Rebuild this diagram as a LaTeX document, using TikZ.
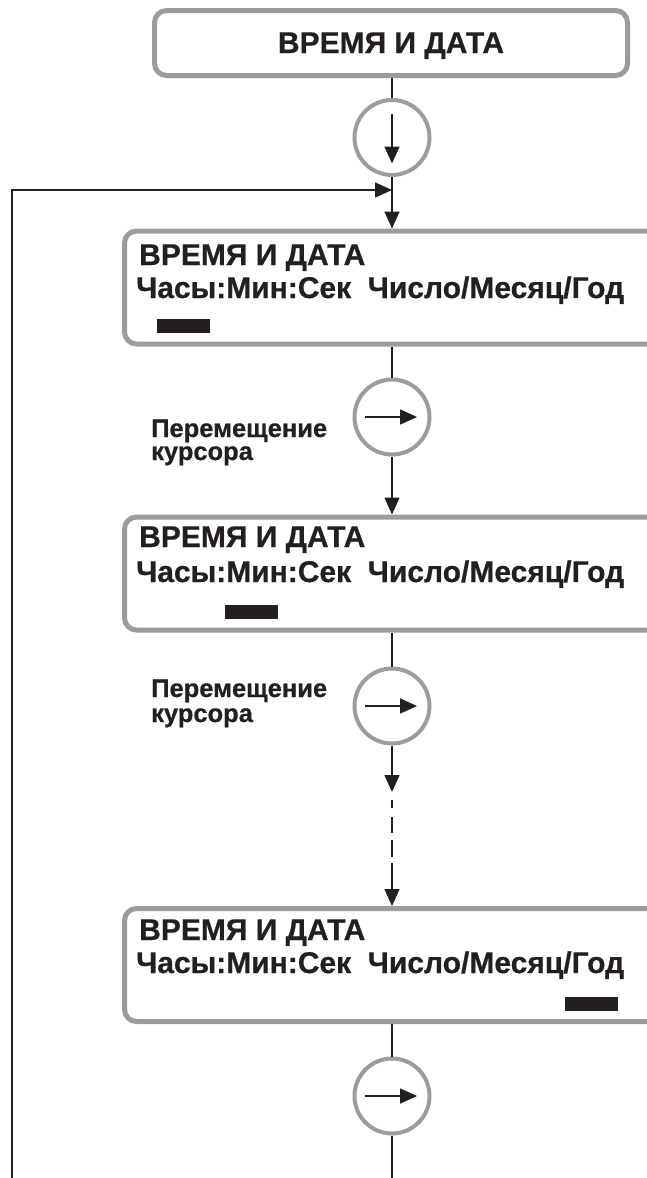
\documentclass[tikz,border=0pt]{standalone}
\usepackage{fontspec}
\setmainfont{Liberation Sans}[BoldFeatures={FakeBold=0.6}]
\usetikzlibrary{arrows.meta,calc}
\definecolor{frame}{HTML}{9C9B9F}
\definecolor{ink}{HTML}{231F20}

\begin{document}
\begin{tikzpicture}[x=1pt,y=-1pt,
  tip/.style={-{Triangle[length=17pt,width=15pt]}},
  conn/.style={draw=ink, line width=1.6pt},
  panel/.style={draw=frame, line width=5pt, rounded corners=12pt, fill=white, inner sep=0pt},
  knob/.style={circle, draw=frame, line width=4pt, fill=white, minimum size=75pt, inner sep=0pt},
  ttl/.style={font=\bfseries\fontsize{30}{30}\selectfont, text=ink, inner sep=0pt, anchor=base west},
  lbl/.style={font=\bfseries\fontsize{25.5}{25.5}\selectfont, text=ink, inner sep=0pt, anchor=base west},
  bar/.style={fill=ink, inner sep=0pt, minimum width=53pt, minimum height=14pt, anchor=north west}
]
\useasboundingbox (0,0) rectangle (647,1178);
\begin{scope}
\clip (0,0) rectangle (647,1178);

% heading panel
\node[panel, minimum width=473pt, minimum height=65pt] (top) at (391,43) {};
\node[ttl, anchor=base] (toptext) at (391,53) {ВРЕМЯ И ДАТА};

% display panels (run off to the right)
\node[panel, minimum width=576pt, minimum height=113pt] (b2) at (412.5,287.5) {};
\node[panel, minimum width=576pt, minimum height=113pt] (b3) at (412.5,573.5) {};
\node[panel, minimum width=576pt, minimum height=113pt] (b4) at (412.5,965) {};

\node[ttl] (t2a) at (139,265) {ВРЕМЯ И ДАТА};
\node[ttl] (t2b) at (136,298) {Часы:Мин:Сек\ \ Число/Месяц/Год};
\node[bar] (cur2) at (157,319) {};

\node[ttl] (t3a) at (139,547) {ВРЕМЯ И ДАТА};
\node[ttl] (t3b) at (136,582) {Часы:Мин:Сек\ \ Число/Месяц/Год};
\node[bar] (cur3) at (225,605) {};

\node[ttl] (t4a) at (139,940) {ВРЕМЯ И ДАТА};
\node[ttl] (t4b) at (136,973) {Часы:Мин:Сек\ \ Число/Месяц/Год};
\node[bar] (cur4) at (565,997) {};

% key circles
\node[knob] (c1) at (392,137.5) {};
\node[knob] (c2) at (392,417) {};
\node[knob] (c3) at (392,706) {};
\node[knob] (c4) at (392,1096) {};

% key symbols
\draw[conn,tip] ($(c1.center)+(0,-24)$) -- ($(c1.center)+(0,26)$);
\foreach \c in {c2,c3,c4}
  \draw[conn,tip] ($(\c.center)+(-27,0)$) -- ($(\c.center)+(25,0)$);

% captions
\node[lbl] (l2a) at (151,437) {Перемещение};
\node[lbl] (l2b) at (151,460) {курсора};
\node[lbl] (l3a) at (151,697) {Перемещение};
\node[lbl] (l3b) at (151,722) {курсора};

% connectors
\coordinate (join) at (392,190);
\coordinate (loopA) at (392,1178);
\coordinate (loopB) at (12,1178);
\coordinate (d1) at (392,792);
\coordinate (d2) at (392,863);

\draw[conn] (c1 |- top.south) -- (c1);
\draw[conn,tip] (c1) -- (c1 |- b2.north);
\draw[conn,tip] (loopB) |- (join);
\draw[conn] (c2 |- b2.south) -- (c2);
\draw[conn,tip] (c2) -- (c2 |- b3.north);
\draw[conn] (c3 |- b3.south) -- (c3);
\draw[conn,tip] (c3) -- (d1);
\draw[conn, dash pattern=on 0pt off 8pt on 8pt off 9pt on 16pt off 7pt on 17pt off 30pt] (d1) -- (d2);
\draw[conn,tip] (d2) -- (c3 |- b4.north);
\draw[conn] (c4 |- b4.south) -- (c4);
\draw[conn] (c4) -- (loopA);
\end{scope}
\end{tikzpicture}
\end{document}
